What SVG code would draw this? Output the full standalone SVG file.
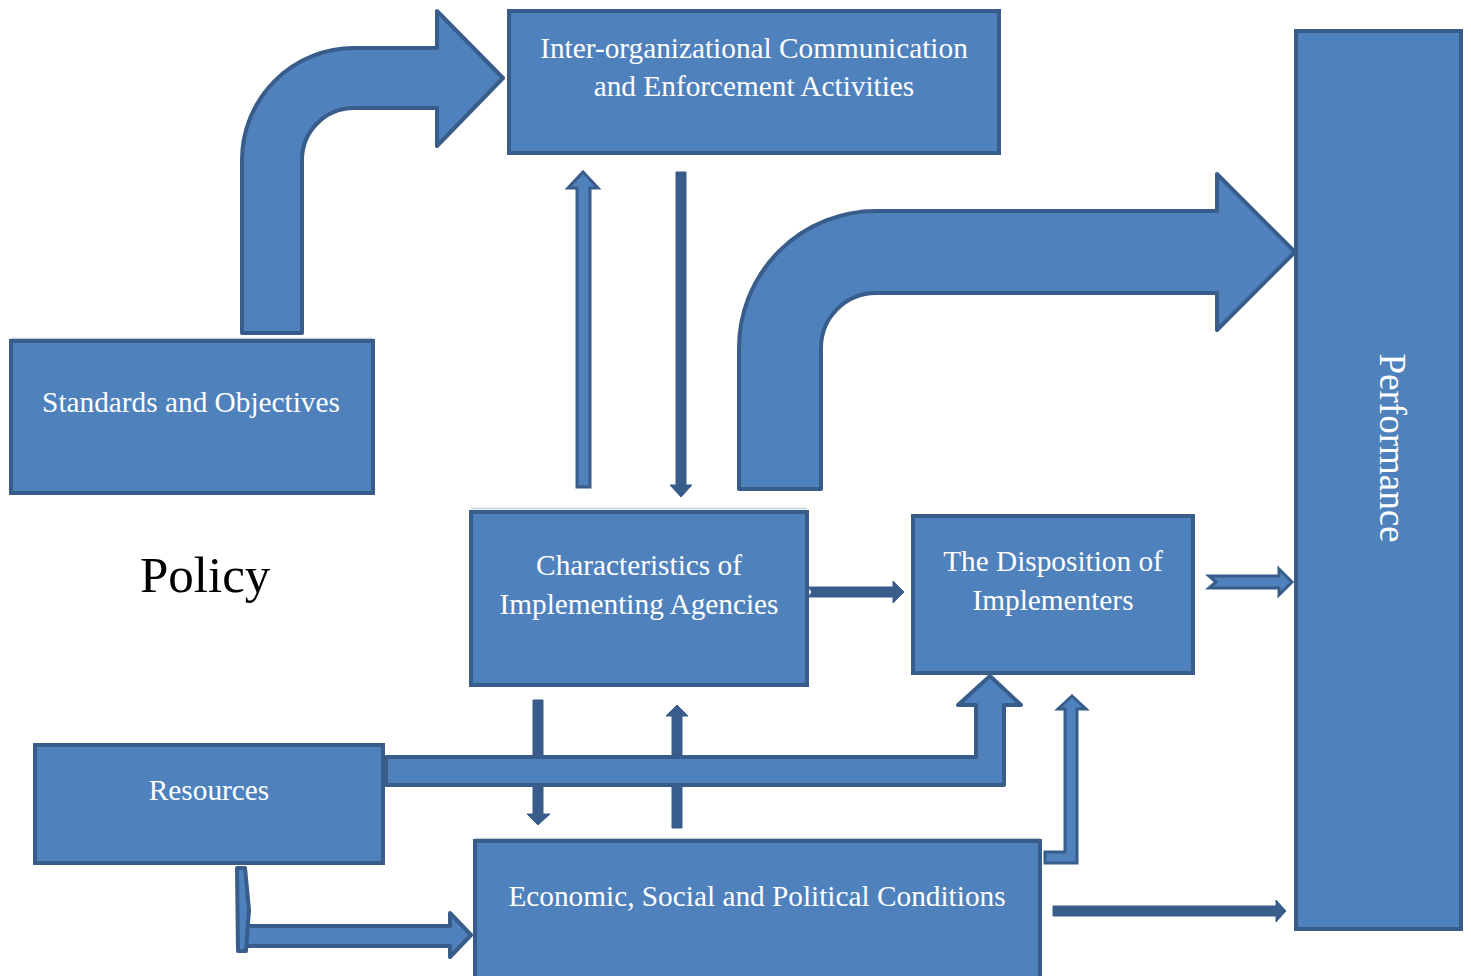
<svg xmlns="http://www.w3.org/2000/svg" width="1471" height="976" viewBox="0 0 1471 976">
  <style>
    .box { fill: #4F81BD; stroke: #385D8A; stroke-width: 4; }
    .shape { fill: #4F81BD; stroke: #385D8A; stroke-width: 4; stroke-linejoin: round; }
    .thin { fill: #4F81BD; stroke: #385D8A; stroke-width: 3; stroke-linejoin: miter; }
    .solid { fill: #385D8A; stroke: #385D8A; stroke-width: 1; }
    .lbl { font-family: "Liberation Serif", "Times New Roman", serif; font-size: 29.3px; fill: #FFFFFF; text-anchor: middle; }
    .edge { stroke: #C3CCD9; stroke-width: 1.5; fill: none; }
  </style>
  <rect width="1471" height="976" fill="#FFFFFF"/>

  <!-- faint frame lines above some boxes -->
  <g id="frames">
    <line class="edge" x1="11" y1="338.5" x2="373" y2="338.5"/>
    <line class="edge" x1="471" y1="508.5" x2="807" y2="508.5"/>
    <line class="edge" x1="475" y1="838.5" x2="1040" y2="838.5"/>
  </g>

  <!-- nodes -->
  <g id="node-communication">
    <rect class="box" x="509" y="11" width="490" height="142"/>
    <text class="lbl" x="754" y="58">Inter-organizational Communication</text>
    <text class="lbl" x="754" y="96">and Enforcement Activities</text>
  </g>
  <g id="node-performance">
    <rect class="box" x="1296" y="31" width="165" height="898"/>
    <text class="lbl" style="font-size:37px" transform="translate(1380,448) rotate(90)">Performance</text>
  </g>
  <g id="node-standards">
    <rect class="box" x="11" y="341" width="362" height="152"/>
    <text class="lbl" x="191" y="412">Standards and Objectives</text>
  </g>
  <g id="node-policy">
    <text x="140" y="592" style="font-family:'Liberation Serif','Times New Roman',serif;font-size:51px;fill:#000000">Policy</text>
  </g>
  <g id="node-characteristics">
    <rect class="box" x="471" y="512" width="336" height="173"/>
    <text class="lbl" x="639" y="575">Characteristics of</text>
    <text class="lbl" x="639" y="614">Implementing Agencies</text>
  </g>
  <g id="node-disposition">
    <rect class="box" x="913" y="516" width="280" height="157"/>
    <text class="lbl" x="1053" y="571">The Disposition of</text>
    <text class="lbl" x="1053" y="610">Implementers</text>
  </g>
  <g id="node-resources">
    <rect class="box" x="35" y="745" width="348" height="118"/>
    <text class="lbl" x="209" y="800">Resources</text>
  </g>
  <g id="node-conditions">
    <rect class="box" x="475" y="841" width="565" height="150"/>
    <text class="lbl" x="757" y="906">Economic, Social and Political Conditions</text>
  </g>

  <!-- connectors -->
  <g id="connectors">
    <!-- standards -> communication -->
    <path class="shape" d="M242,333 L242,160 A112,112 0 0 1 354,48 L437,48 L437,11 L503,78 L437,146 L437,108 L354,108 A52,52 0 0 0 302,160 L302,333 Z"/>
    <!-- characteristics -> performance -->
    <path class="shape" d="M739,489 L739,348 A137,137 0 0 1 876,211 L1217,211 L1217,174 L1295,252 L1217,330 L1217,293 L876,293 A55,55 0 0 0 821,348 L821,489 Z"/>
    <!-- characteristics <-> communication -->
    <polygon class="thin" points="577,487 577,188 568,188 583,172 598,188 590,188 590,487"/>
    <polygon class="solid" points="676,172 686,172 686,485 692,485 681,497 670,485 676,485"/>
    <!-- characteristics -> disposition -->
    <polygon class="solid" points="808,587 893,587 893,581 904,592 893,603 893,597 808,597 812,592"/>
    <!-- disposition -> performance -->
    <polygon class="thin" points="1209,576 1279,576 1279,569 1292,582 1279,595 1279,588 1209,588 1216,582"/>
    <!-- characteristics <-> conditions -->
    <polygon class="solid" points="533,700 543,700 543,814 550,814 538,825 527,814 533,814"/>
    <polygon class="solid" points="672,828 682,828 682,716 688,716 677,705 666,716 672,716"/>
    <!-- resources -> disposition -->
    <path class="shape" d="M386,757 L976,757 L976,705 L958,705 L990,676 L1021,705 L1004,705 L1004,785 L386,785 Z"/>
    <!-- conditions -> disposition -->
    <path class="thin" d="M1045,852 L1065,852 L1065,709 L1058,709 L1072,696 L1086,709 L1077,709 L1077,863 L1045,863 Z"/>
    <!-- conditions -> performance -->
    <polygon class="solid" points="1053,906 1276,906 1276,900 1286,911 1276,922 1276,916 1053,916"/>
    <!-- resources -> conditions -->
    <path class="shape" d="M241,926 L450,926 L450,913 L471,935 L450,957 L450,946 L241,946 Z"/>
    <path class="shape" d="M237,868 L245,868 L249,910 L246,951 L238,951 Z"/>
  </g>
</svg>
